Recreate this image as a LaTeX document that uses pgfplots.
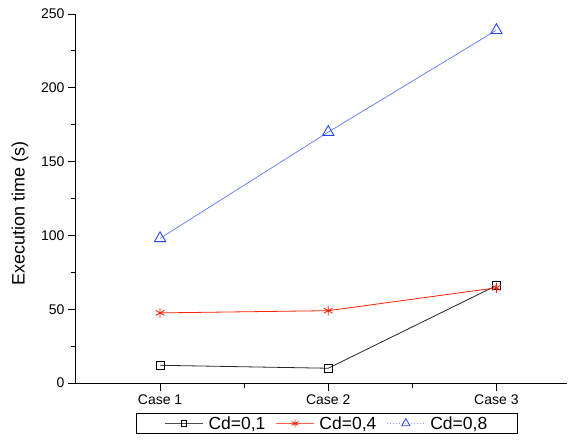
\documentclass[border=0pt]{standalone}
\usepackage{pgfplots}
\pgfplotsset{compat=1.18}
\usepackage{fontspec}
\setmainfont{Liberation Sans}
\definecolor{cblue}{RGB}{40,70,255}
\definecolor{cbluel}{RGB}{90,120,255}
\definecolor{cred}{RGB}{255,30,0}
\begin{document}
\begin{tikzpicture}
\begin{axis}[
  scale only axis,
  width=491pt, height=369pt,
  xmin=0.5, xmax=3.42,
  ymin=0, ymax=250,
  axis x line*=bottom, axis y line*=left,
  axis line style={line width=1pt,-},
  xtick={1,2,3},
  xticklabels={Case 1,Case 2,Case 3},
  minor xtick={1.5,2.5},
  ytick={0,50,100,150,200,250},
  minor ytick={25,75,125,175,225},
  tick align=outside,
  major tick length=8pt,
  minor tick length=5pt,
  tick style={line width=0.9pt,black},
  ticklabel style={font=\fontsize{14}{16}\selectfont},
  /pgf/number format/assume math mode=true,
  ylabel={Execution time (s)},
  ylabel style={font=\fontsize{18}{20}\selectfont, at={(axis description cs:-0.114,0.459)}, anchor=center},
  legend columns=3,
  legend style={at={(axis description cs:0.511,-0.0813)}, anchor=north, draw=black, line width=0.7pt,
    font=\fontsize{17.5}{19}\selectfont, inner xsep=28pt, inner ysep=1pt,
    /tikz/every even column/.append style={column sep=8pt},
    /tikz/every odd column/.append style={column sep=3pt}},
  legend image code/.code={\draw[mark repeat=2,mark phase=2,#1] plot coordinates {(0pt,0pt) (19pt,0pt) (38pt,0pt)};},
  clip=false,
]
\addplot[forget plot, black!85, line width=0.8pt, mark=square, mark size=4pt, mark options={solid,black,line width=0.8pt}] coordinates {(1,12) (2,10) (3,66)};
\addplot[forget plot, cred, line width=0.8pt, mark=asterisk, mark size=5pt, mark options={solid,line width=0.8pt}] coordinates {(1,47.5) (2,49) (3,64.5)};
\addplot[forget plot, cbluel, line width=0.7pt, mark=triangle, mark size=6.5pt, mark options={solid,cblue,line width=0.9pt}] coordinates {(1,98) (2,170) (3,239)};
\addlegendimage{black!70, line width=1pt, mark=square, mark size=2.7pt, mark options={solid,black,line width=0.7pt}}
\addlegendentry{Cd=0,1}
\addlegendimage{cred!70, line width=1pt, mark=asterisk, mark size=3.8pt, mark options={solid,cred,line width=0.8pt}}
\addlegendentry{Cd=0,4}
\addlegendimage{cbluel!70, line width=1pt, dotted, mark=triangle, mark size=4.8pt, mark options={solid,cblue,line width=0.8pt}}
\addlegendentry{Cd=0,8}
\end{axis}
\pgfresetboundingbox
\path[use as bounding box] (-76pt,-57pt) rectangle (497pt,383pt);
\end{tikzpicture}
\end{document}
